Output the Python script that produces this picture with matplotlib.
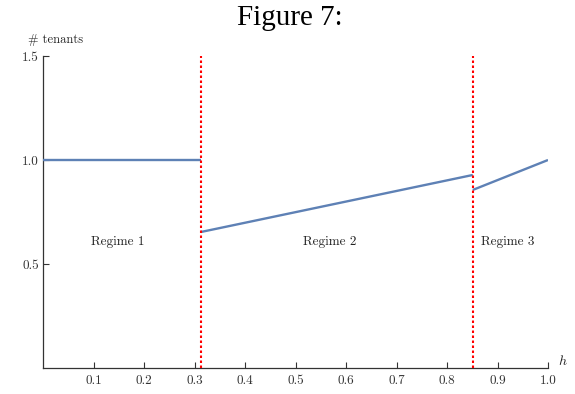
import numpy as np
import matplotlib
matplotlib.use("Agg")
import matplotlib.pyplot as plt

plt.rcParams['font.family'] = 'serif'
plt.rcParams['font.serif'] = ['cmr10']
plt.rcParams['mathtext.fontset'] = 'cm'
plt.rcParams['axes.formatter.use_mathtext'] = True

# regime boundaries in h
h1 = 0.313
h2 = 0.851

# number of tenants in each regime
r1_h = [0.0, h1]
r1_n = [1.0, 1.0]
r2_h = [h1, h2]
r2_n = [0.654, 0.928]
r3_h = [h2, 1.0]
r3_n = [0.856, 1.0]

regime_names = ['Regime 1', 'Regime 2', 'Regime 3']
regime_x = [0.149, 0.568, 0.921]
regime_y = 0.606

xticks = [0.1, 0.2, 0.3, 0.4, 0.5, 0.6, 0.7, 0.8, 0.9, 1.0]
yticks = [0.5, 1.0, 1.5]

blue = '#5e81b5'

fig = plt.figure(figsize=(5.75, 3.94), dpi=100)
ax = fig.add_axes([43/575, 26/394, 505/575, 312/394])

for hh, nn in [(r1_h, r1_n), (r2_h, r2_n), (r3_h, r3_n)]:
    ax.plot(hh, nn, color=blue, lw=1.7, solid_capstyle='butt', zorder=3)

for b in [h1, h2]:
    ax.plot([b, b], [0, 1.5], color='red', ls=(0, (1.2, 1.2)), lw=1.5, zorder=4)

for name, x in zip(regime_names, regime_x):
    ax.text(x, regime_y, name, ha='center', va='center', fontsize=9.5,
            color='#222222')

ax.set_xlim(0, 1.0)
ax.set_ylim(0, 1.5)
ax.set_xticks(xticks)
ax.set_yticks(yticks)
ax.set_xticklabels(['%.1f' % v for v in xticks])
ax.set_yticklabels(['%.1f' % v for v in yticks])
ax.tick_params(direction='in', length=4, width=0.8, labelsize=9.5,
               color='#333333', labelcolor='#333333')
ax.tick_params(axis='x', pad=5)
ax.tick_params(axis='y', pad=3)

for s in ['top', 'right']:
    ax.spines[s].set_visible(False)
for s in ['left', 'bottom']:
    ax.spines[s].set_color('#333333')
    ax.spines[s].set_linewidth(0.9)

ax.text(0.024, 1.577, '# tenants', ha='center', va='center', fontsize=9,
        color='#222222', clip_on=False)
ax.text(1.02, 0.0, '$h$', ha='left', va='bottom', fontsize=10,
        color='#222222', clip_on=False)

fig.text(0.504, 0.955, 'Figure 7:', ha='center', va='center', fontsize=21,
         family='Liberation Serif')

fig.savefig('out.png', dpi=100)
